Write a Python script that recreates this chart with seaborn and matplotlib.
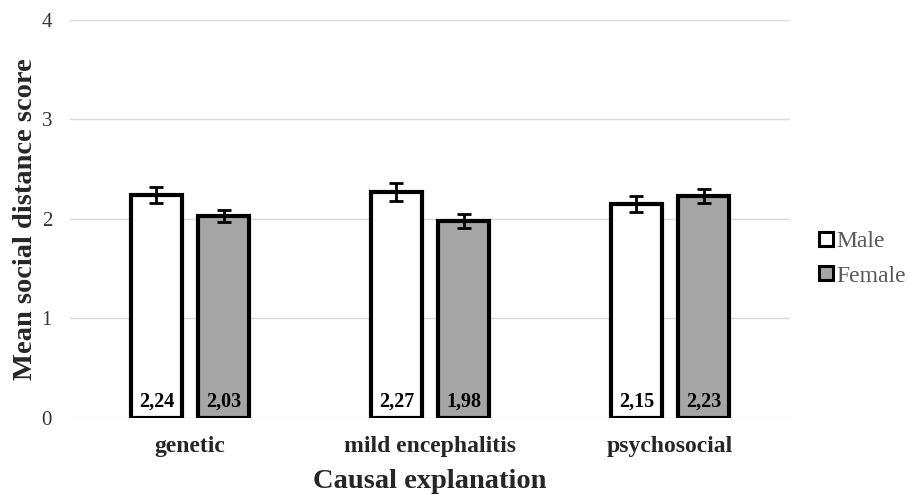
import matplotlib
import pandas as pd
import seaborn as sns

matplotlib.use("Agg")
import matplotlib.pyplot as plt
from matplotlib.lines import Line2D

categories = ["genetic", "mild encephalitis", "psychosocial"]
genders = ["Male", "Female"]
male_means = [2.24, 2.27, 2.15]
female_means = [2.03, 1.98, 2.23]
male_err = [0.08, 0.09, 0.08]
female_err = [0.06, 0.07, 0.07]
y_ticks = [0, 1, 2, 3, 4]

rows = []
for i, cat in enumerate(categories):
    rows.append({"cause": cat, "gender": "Male", "mean": male_means[i], "err": male_err[i]})
    rows.append({"cause": cat, "gender": "Female", "mean": female_means[i], "err": female_err[i]})
df = pd.DataFrame(rows)

sns.set_theme(style="white")
plt.rcParams["font.family"] = ["Liberation Serif", "DejaVu Serif"]

fig, ax = plt.subplots(figsize=(9.1, 4.94), dpi=100)
fig.subplots_adjust(left=0.077, right=0.868, top=0.96, bottom=0.154)

palette = {"Male": "#ffffff", "Female": "#a5a5a5"}
sns.barplot(
    data=df, x="cause", y="mean", hue="gender", hue_order=genders,
    order=categories, palette=palette, errorbar=None,
    width=0.56, gap=0.24, edgecolor="black", linewidth=3, ax=ax,
    legend=False,
)

# error bars and value labels from the drawn bars
for container, g in zip(ax.containers, genders):
    sub = df[df["gender"] == g].set_index("cause").loc[categories]
    for patch, (_, r) in zip(container.patches, sub.iterrows()):
        xc = patch.get_x() + patch.get_width() / 2
        ax.errorbar(xc, r["mean"], yerr=r["err"], fmt="none", ecolor="black",
                    elinewidth=2, capsize=5, capthick=2, zorder=5)
        ax.text(xc, 0.06, f"{r['mean']:.2f}".replace(".", ","), ha="center",
                va="bottom", fontsize=14.5, fontweight="bold", color="black")

ax.set_xlim(-0.5, 2.5)
ax.set_ylim(0, 4)
ax.set_yticks(y_ticks)
ax.yaxis.grid(True, color="#d9d9d9", linewidth=1)
ax.set_axisbelow(True)
for s in ax.spines.values():
    s.set_visible(False)
ax.tick_params(axis="y", length=0, pad=13, labelsize=15, labelcolor="#333333")
ax.tick_params(axis="x", length=0, pad=13)
for lbl in ax.get_xticklabels():
    lbl.set_fontsize(17)
    lbl.set_fontweight("bold")
ax.set_xlabel("Causal explanation", fontsize=20.5, fontweight="bold", labelpad=9)
ax.set_ylabel("Mean social distance score", fontsize=20.5, fontweight="bold")
ax.yaxis.set_label_coords(-0.045, 0.5)

handles = [
    Line2D([], [], marker="s", linestyle="none", markersize=10,
           markerfacecolor=palette[g], markeredgecolor="black", markeredgewidth=2.2)
    for g in genders
]
leg = ax.legend(handles, genders, loc="center left", bbox_to_anchor=(1.04, 0.40),
                frameon=False, fontsize=17, handletextpad=0.15, labelspacing=0.55,
                handlelength=0.6, borderaxespad=0, borderpad=0)
for t in leg.get_texts():
    t.set_color("#595959")

plt.savefig("out.png", dpi=100)
plt.close(fig)
